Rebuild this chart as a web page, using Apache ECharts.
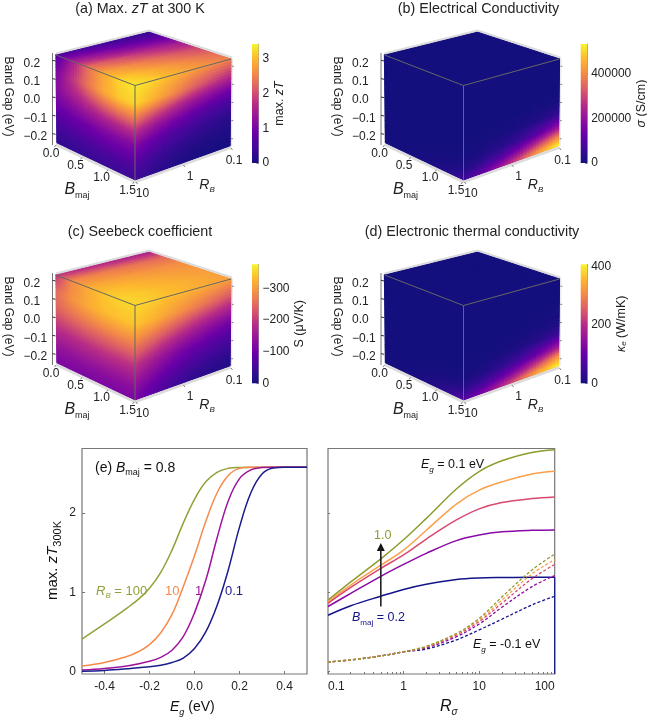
<!DOCTYPE html>
<html><head><meta charset="utf-8">
<style>html,body{margin:0;padding:0;background:#fff}#c{width:647px;height:718px}</style>
<script src="https://cdn.jsdelivr.net/npm/echarts@6/dist/echarts.min.js"></script>
</head><body><div id="c"></div>
<script>
// ---------- cube axes ----------
const bmajNodes=[0,0.3,0.6,0.9,1.2,1.5];
const rbNodes=[10,4,1.6,0.63,0.25,0.1];
const egNodes=[0.24,0.14,0.07,0,-0.07,-0.14,-0.19,-0.24];
const bmajTicks=[0,0.5,1,1.5];
const rbTicks=[10,1,0.1];
const egTicks=[0.2,0.1,0,-0.1,-0.2];
// ---------- (a) zT ----------
const zt_left=[[.55,1.4,2.3,2.85,3.2,3.35],[1.0,1.75,2.35,2.85,3.12,3.2],[1.15,1.55,1.9,2.2,2.4,2.45],[1.0,1.2,1.4,1.55,1.65,1.7],[.75,.85,.95,1.05,1.1,1.1],[.52,.6,.65,.7,.75,.75],[.38,.42,.46,.5,.52,.55],[.28,.32,.35,.38,.4,.42]];
const zt_right=[[3.35,3.2,3.0,2.8,2.65,2.5],[3.2,2.95,2.6,2.2,1.9,1.65],[2.45,2.1,1.75,1.4,1.15,.95],[1.7,1.35,1.05,.8,.62,.5],[1.1,.82,.6,.45,.32,.25],[.75,.52,.35,.23,.16,.12],[.55,.36,.22,.13,.08,.06],[.42,.26,.14,.07,.04,.03]];
const zt_top=[[.55,.5,.45,.4,.35,.3],[1.4,1.3,1.15,1.0,.9,.8],[2.3,2.15,1.95,1.75,1.6,1.45],[2.85,2.7,2.5,2.3,2.1,1.95],[3.2,3.05,2.85,2.65,2.45,2.3],[3.35,3.2,3.0,2.8,2.65,2.5]];
// ---------- (b) sigma ----------
const sigma_left=[[0,0,0,0,0,0],[0,0,0,0,0,0],[0,0,0,0,0,0],[0,0,0,0,0,0],[0,0,0,0,500,1000],[0,0,0,1000,2000,5000],[0,0,1000,3000,8000,18000],[0,1000,4000,12000,28000,60000]];
const sigma_right=[[0,0,0,0,0,0],[0,0,0,0,0,0],[0,0,0,0,0,1000],[0,0,0,1000,3000,8000],[1000,2000,5000,12000,25000,50000],[5000,12000,28000,60000,120000,210000],[20000,45000,90000,170000,280000,390000],[60000,120000,210000,320000,440000,533000]];
const sigma_top=[[0,0,0,0,0,0],[0,0,0,0,0,0],[0,0,0,0,0,0],[0,0,0,0,0,0],[0,0,0,0,0,0],[0,0,0,0,0,0]];
// ---------- (c) Seebeck magnitude ----------
const seebeck_left=[[190,280,315,340,350,355],[250,290,315,332,337,340],[245,265,280,290,295,295],[215,225,235,240,245,245],[180,185,190,195,195,195],[150,150,155,155,155,155],[130,130,130,130,130,130],[115,115,115,115,115,115]];
const seebeck_right=[[355,345,335,325,315,305],[340,325,300,275,250,225],[295,270,240,210,185,165],[245,215,180,150,125,105],[195,160,125,100,80,65],[155,120,90,65,50,40],[130,95,65,45,32,25],[115,75,50,30,22,18]];
const seebeck_top=[[190,185,180,175,170,165],[280,275,270,262,255,250],[315,310,305,295,290,285],[340,335,325,315,305,300],[350,345,335,325,315,305],[355,345,335,325,315,305]];
// ---------- (d) kappa_e ----------
const kappa_left=[[0,0,0,0,0,0],[0,0,0,0,0,0],[0,0,0,0,0,0],[0,0,0,0,0,0],[0,0,0,0,0,0],[0,0,0,1,3,6],[0,1,2,5,12,25],[1,2,6,15,35,70]];
const kappa_right=[[0,0,0,0,0,0],[0,0,0,0,0,0],[0,0,0,0,1,2],[0,0,1,2,4,10],[1,2,5,12,25,50],[6,14,30,60,110,180],[25,50,90,150,230,320],[70,120,190,270,350,407]];
const kappa_top=[[0,0,0,0,0,0],[0,0,0,0,0,0],[0,0,0,0,0,0],[0,0,0,0,0,0],[0,0,0,0,0,0],[0,0,0,0,0,0]];
// ---------- colour bar ranges and ticks ----------
const zt_max=3.43, sigma_max=533000, seebeck_max=376, kappa_max=407;
const zt_ticks=[0,1,2,3], sigma_ticks=[0,200000,400000], seebeck_ticks=[0,100,200,300], kappa_ticks=[0,200,400];
// ---------- (e) ----------
const e_rb100=[[-.5,.41],[-.4,.60],[-.3,.80],[-.25,.91],[-.2,1.05],[-.15,1.25],[-.1,1.53],[-.05,1.87],[0,2.17],[.05,2.39],[.1,2.51],[.15,2.56],[.2,2.572],[.3,2.575],[.5,2.575]];
const e_rb10=[[-.5,.07],[-.4,.115],[-.3,.19],[-.25,.25],[-.2,.34],[-.15,.49],[-.1,.72],[-.05,1.07],[0,1.46],[.05,1.89],[.1,2.25],[.15,2.47],[.2,2.56],[.25,2.574],[.3,2.575],[.5,2.575]];
const e_rb1=[[-.5,.02],[-.4,.04],[-.3,.07],[-.2,.13],[-.15,.18],[-.1,.27],[-.05,.44],[0,.74],[.05,1.15],[.1,1.68],[.15,2.15],[.2,2.43],[.25,2.54],[.3,2.57],[.35,2.575],[.5,2.575]];
const e_rb01=[[-.5,.005],[-.4,.015],[-.3,.035],[-.2,.06],[-.15,.08],[-.1,.115],[-.05,.17],[0,.29],[.05,.50],[.1,.83],[.15,1.28],[.2,1.82],[.25,2.25],[.3,2.49],[.35,2.565],[.4,2.575],[.5,2.575]];
const e_colors=['#93a03a','#f58a4f','#a0149c','#1b1b8c'];
const e_ticksX=[-0.4,-0.2,0,0.2,0.4], e_ticksY=[0,1,2];
// ---------- (f) ----------
const f_R=[.1,.2,.5,1,2,5,10,20,50,100];
const f_solid10=[.90,1.13,1.42,1.66,1.93,2.30,2.52,2.655,2.76,2.795];
const f_solid08=[.88,1.09,1.34,1.53,1.78,2.11,2.285,2.39,2.49,2.525];
const f_solid06=[.86,1.06,1.30,1.47,1.67,1.91,2.05,2.13,2.18,2.2];
const f_solid04=[.82,.985,1.2,1.35,1.49,1.65,1.72,1.76,1.78,1.785];
const f_solid02=[.71,.83,.95,1.035,1.10,1.16,1.18,1.186,1.19,1.19];
const f_dash10=[.12,.147,.197,.25,.32,.48,.67,.94,1.28,1.48];
const f_dash08=[.12,.147,.197,.25,.315,.475,.65,.90,1.23,1.41];
const f_dash06=[.12,.147,.197,.25,.31,.46,.63,.86,1.17,1.35];
const f_dash04=[.12,.147,.197,.25,.30,.44,.60,.81,1.07,1.21];
const f_dash02=[.12,.147,.197,.25,.285,.40,.525,.66,.84,.95];
const f_colors=['#8f9b2f','#f9a04a','#d9486e','#8a0aa5','#14148a'];

const FONT='"Liberation Sans",Arial,sans-serif';
const TXT='#222';
const CM=[[0,'#15107e'],[.12,'#3f0a98'],[.25,'#6a00a8'],[.38,'#94149a'],[.5,'#b82e87'],[.62,'#db5c68'],[.75,'#f38a48'],[.88,'#fdb92f'],[1,'#f7f52c']];
const hex=h=>[parseInt(h.slice(1,3),16),parseInt(h.slice(3,5),16),parseInt(h.slice(5,7),16)];
const CMR=CM.map(c=>[c[0],hex(c[1])]);
function cmap(t){t=Math.max(0,Math.min(1,t));
 for(let i=1;i<CMR.length;i++) if(t<=CMR[i][0]){const a=CMR[i-1],b=CMR[i],f=(t-a[0])/(b[0]-a[0]);
  return 'rgb('+[0,1,2].map(k=>Math.round(a[1][k]+(b[1][k]-a[1][k])*f)).join(',')+')';}
 return CM[CM.length-1][1];}
const gradStops=CM.map(c=>({offset:c[0],color:c[1]}));

const BOX={LT:[56,55],FT:[135,85.5],RT:[231,59],BT:[149,32],LB:[57,143],FB:[135,180],RB:[230,146]};
const OFF=[[0,0],[328.5,0],[0,220],[328.5,220]];
const sB=b=>b/1.5, sR=r=>(1-Math.log10(r))/2, sE=e=>(0.24-e)/0.48;
const bil=(a,b,c,d,s,t)=>[0,1].map(k=>(a[k]*(1-s)+b[k]*s)*(1-t)+(d[k]*(1-s)+c[k]*s)*t);
function facePt(f,s,t){
 if(f===0) return bil(BOX.LT,BOX.FT,BOX.FB,BOX.LB,s,t);
 if(f===1) return bil(BOX.FT,BOX.RT,BOX.RB,BOX.FB,s,t);
 return bil(BOX.LT,BOX.BT,BOX.RT,BOX.FT,s,t);
}
const mk=(v,w,it)=>({fontSize:v,fontFamily:FONT,fill:'#222',color:'#222',fontStyle:it?'italic':'normal',fontWeight:'normal',lineHeight:w});

const PANELS=[
 {left:zt_left,right:zt_right,top:zt_top,max:zt_max},
 {left:sigma_left,right:sigma_right,top:sigma_top,max:sigma_max},
 {left:seebeck_left,right:seebeck_right,top:seebeck_top,max:seebeck_max},
 {left:kappa_left,right:kappa_right,top:kappa_top,max:kappa_max}];

function faceRows(p){const out=[];
 [[p.left,0],[p.right,1],[p.top,2]].forEach(([g,f])=>{
  for(let j=0;j<g.length-1;j++)for(let i=0;i<g[0].length-1;i++)
   out.push([f,i,j,g[j][i],g[j][i+1],g[j+1][i],g[j+1][i+1]]);});
 return out;}
const NSUB=6;
function cellRender(pi){return function(params,api){
 const f=api.value(0),i=api.value(1),j=api.value(2),v00=api.value(3),v10=api.value(4),v01=api.value(5),v11=api.value(6);
 const max=PANELS[pi].max,o=OFF[pi];
 let s0,s1,t0,t1;
 if(f===0){s0=sB(bmajNodes[i]);s1=sB(bmajNodes[i+1]);t0=sE(egNodes[j]);t1=sE(egNodes[j+1]);}
 else if(f===1){s0=sR(rbNodes[i]);s1=sR(rbNodes[i+1]);t0=sE(egNodes[j]);t1=sE(egNodes[j+1]);}
 else {s0=sR(rbNodes[i]);s1=sR(rbNodes[i+1]);t0=sB(bmajNodes[j]);t1=sB(bmajNodes[j+1]);}
 const ch=[];
 const P=(s,t)=>{const q=facePt(f,s0+(s1-s0)*s,t0+(t1-t0)*t);return api.coord([q[0]+o[0],q[1]+o[1]]);};
 for(let a=0;a<NSUB;a++)for(let b=0;b<NSUB;b++){
  const sa=a/NSUB,sb=(a+1)/NSUB,ta=b/NSUB,tb=(b+1)/NSUB,sm=(a+.5)/NSUB,tm=(b+.5)/NSUB;
  const v=(v00*(1-sm)+v10*sm)*(1-tm)+(v01*(1-sm)+v11*sm)*tm;
  const c=cmap(v/max);
  ch.push({type:'polygon',silent:true,shape:{points:[P(sa,ta),P(sb,ta),P(sb,tb),P(sa,tb)]},style:{fill:c,stroke:c,lineWidth:1.3,lineJoin:'round'}});
 }
 return {type:'group',children:ch};
};}
function frameRender(params,api){
 const pi=api.value(0),o=OFF[pi];
 const C=q=>api.coord([q[0]+o[0],q[1]+o[1]]);
 const ch=[];
 const line=(a,b,col,w)=>{const A=C(a),B=C(b);ch.push({type:'line',shape:{x1:A[0],y1:A[1],x2:B[0],y2:B[1]},style:{stroke:col,lineWidth:w}});};
 const txt=(q,t,sty)=>{const A=C(q);ch.push({type:'text',x:A[0],y:A[1],rotation:sty.rot||0,style:Object.assign({text:t,fontFamily:FONT,fontSize:12,fill:TXT,align:'center',verticalAlign:'middle'},sty.s)});};
 const sh=(p,dx,dy)=>[p[0]+dx,p[1]+dy];
 const G='#dcdcdc';
 line(sh(BOX.LT,0,-1.5),sh(BOX.BT,0,-1.5),G,2);line(sh(BOX.BT,0,-1.5),sh(BOX.RT,1,-1.5),G,2);
 line(sh(BOX.LB,-1,1.5),sh(BOX.FB,0,2),G,2.5);line(sh(BOX.FB,0,2),sh(BOX.RB,1,1.5),G,2.5);
 line(sh(BOX.RT,1.5,0),sh(BOX.RB,1.5,0),'#e4e4e4',1);
 const E='#666';
 line(BOX.LT,BOX.FT,E,1);line(BOX.FT,BOX.RT,E,1);line(BOX.FT,BOX.FB,E,1);
 const ax=x=>[52.5,BOX.LT[1]+(BOX.LB[1]-BOX.LT[1])*sE(x)];
 line(sh(ax(0.24),0,-2),sh(ax(-0.24),0,2),'#777',1);
 egTicks.forEach(v=>{const p=sh(ax(v),0,-2);line(p,sh(p,3,.6),'#333',1);
  txt([23.5,p[1]+3],(v<0?'\u2212':'')+Math.abs(v).toFixed(1),{s:{align:'left'}});
  line(sh(facePt(1,1,sE(v)),1,0),sh(facePt(1,1,sE(v)),3,0),'#888',1);});
 bmajTicks.forEach(v=>{const q=facePt(0,sB(v),1);
  line(sh(q,-1,2),sh(q,-2.5,4),'#888',1);
  txt(sh(q,v===0?-6:-7.5,10.5),v.toFixed(1),{});});
 rbTicks.forEach(v=>{const q=facePt(1,sR(v),1);
  line(sh(q,1,2),sh(q,2.5,4),'#888',1);
  txt(sh(q,v===0.1?4:7.5,v===0.1?15:13.5),String(v),{});});
 txt([8.5,96.5],'Band Gap (eV)',{rot:-Math.PI/2,s:{fontSize:12}});
 txt([77,190],'{b|B}{s|maj}',{s:{rich:{b:mk(16,20,true),s:Object.assign(mk(9,11,false),{verticalAlign:'bottom'})}}});
 txt([207,185],'{b|R}{s|B}',{s:{rich:{b:mk(14,18,true),s:Object.assign(mk(8,10,true),{verticalAlign:'bottom'})}}});
 return {type:'group',children:ch};
}
function barRender(params,api){
 const cs=params.coordSys;
 return {type:'rect',shape:{x:cs.x,y:cs.y,width:cs.width,height:cs.height},
  style:{fill:new echarts.graphic.LinearGradient(0,1,0,0,gradStops)}};
}
const CB=[
 {max:zt_max,ticks:zt_ticks,left:252,top:44,h:119,gap:15,name:'max. {i|zT}',fmt:v=>String(v)},
 {max:sigma_max,ticks:sigma_ticks,left:580.7,top:44,h:119,gap:48,name:'{i|\u03c3} (S/cm)',fmt:v=>String(v)},
 {max:seebeck_max,ticks:seebeck_ticks,left:252,top:264.3,h:119,gap:33,name:'S (\u03bcV/K)',fmt:v=>v===0?'0':'\u2212'+v},
 {max:kappa_max,ticks:kappa_ticks,left:580.7,top:264.3,h:119,gap:27,name:'{i|\u03ba}{s|e} (W/mK)',fmt:v=>String(v)}];

const NOB={outerBoundsMode:'none',containLabel:false};
const grids=[Object.assign({left:0,top:0,width:647,height:718,show:false},NOB)];
const xAxes=[{gridIndex:0,type:'value',min:0,max:647,show:false}];
const yAxes=[{gridIndex:0,type:'value',min:0,max:718,inverse:true,show:false}];
const series=[];
PANELS.forEach((p,pi)=>{
 series.push({type:'custom',name:'cube'+pi,coordinateSystem:'cartesian2d',xAxisIndex:0,yAxisIndex:0,silent:true,animation:false,clip:false,z:2,renderItem:cellRender(pi),data:faceRows(p)});
});
series.push({type:'custom',name:'frames',xAxisIndex:0,yAxisIndex:0,silent:true,animation:false,clip:false,z:3,renderItem:frameRender,data:[[0,0],[1,0],[2,0],[3,0]]});
CB.forEach((c,i)=>{
 const k=grids.length;
 grids.push(Object.assign({left:c.left,top:c.top,width:6.5,height:c.h,show:false},NOB));
 xAxes.push({gridIndex:k,type:'value',min:0,max:1,show:false});
 yAxes.push({gridIndex:k,type:'value',min:0,max:c.max,position:'right',
  axisLine:{show:true,onZero:false,lineStyle:{color:'#888',width:.8}},
  axisTick:{show:true,inside:true,length:2,customValues:c.ticks,lineStyle:{color:'#555',width:.8}},
  splitLine:{show:false},
  axisLabel:{customValues:c.ticks,formatter:c.fmt,color:TXT,fontFamily:FONT,fontSize:12,margin:4,showMinLabel:true,showMaxLabel:true},
  name:c.name,nameLocation:'middle',nameGap:c.gap,nameRotate:90,
  nameTextStyle:{color:TXT,fontFamily:FONT,fontSize:12.5,rich:{i:{fontStyle:'italic',fontFamily:FONT,fontSize:12.5,color:TXT},s:{fontStyle:'italic',fontFamily:FONT,fontSize:8,color:TXT,verticalAlign:'bottom',lineHeight:10}}}});
 series.push({type:'custom',xAxisIndex:k,yAxisIndex:k,silent:true,animation:false,clip:false,renderItem:barRender,data:[[0,c.max]],z:2});
});
const FR='#777';
const ke=grids.length;
grids.push(Object.assign({left:82,top:448.5,width:225,height:225.5,show:true,borderColor:FR,borderWidth:1.2,backgroundColor:'transparent',z:1},NOB));
xAxes.push({gridIndex:ke,type:'value',min:-0.5,max:0.5,axisLine:{show:false,onZero:false},splitLine:{show:false},
 axisTick:{show:true,inside:true,length:3,customValues:e_ticksX,lineStyle:{color:FR}},
 axisLabel:{customValues:e_ticksX,formatter:v=>v.toFixed(1),color:TXT,fontFamily:FONT,fontSize:12,margin:7}});
yAxes.push({gridIndex:ke,type:'value',min:-0.03,max:2.81,axisLine:{show:false,onZero:false},splitLine:{show:false},
 axisTick:{show:true,inside:true,length:3,customValues:e_ticksY,lineStyle:{color:FR}},
 axisLabel:{customValues:e_ticksY,formatter:v=>String(v),color:TXT,fontFamily:FONT,fontSize:12,margin:6}});
[e_rb100,e_rb10,e_rb1,e_rb01].forEach((d,i)=>series.push({type:'line',xAxisIndex:ke,yAxisIndex:ke,data:d,showSymbol:false,smooth:.4,animation:false,silent:true,z:4+i,lineStyle:{color:e_colors[i],width:1.5}}));
const kf=grids.length;
grids.push(Object.assign({left:328,top:448.5,width:226.7,height:225.5,show:true,borderColor:FR,borderWidth:1.2,backgroundColor:'transparent',z:1},NOB));
xAxes.push({gridIndex:kf,type:'log',logBase:10,min:0.1,max:100,axisLine:{show:false,onZero:false},splitLine:{show:false},
 axisTick:{show:true,inside:true,length:3,lineStyle:{color:FR}},
 minorTick:{show:true,splitNumber:9,length:2,lineStyle:{color:FR}},
 axisLabel:{color:TXT,fontFamily:FONT,fontSize:12,margin:7,alignMinLabel:'left',alignMaxLabel:'right',showMinLabel:true,showMaxLabel:true,formatter:v=>String(v)}});
yAxes.push({gridIndex:kf,type:'value',min:-0.03,max:2.81,axisLine:{show:false,onZero:false},splitLine:{show:false},
 axisTick:{show:true,inside:true,length:2,customValues:e_ticksY,lineStyle:{color:FR}},axisLabel:{show:false}});
[f_solid10,f_solid08,f_solid06,f_solid04,f_solid02].forEach((d,i)=>series.push({type:'line',xAxisIndex:kf,yAxisIndex:kf,data:f_R.map((r,n)=>[r,d[n]]),showSymbol:false,smooth:.35,animation:false,silent:true,z:4,lineStyle:{color:f_colors[i],width:1.5}}));
[f_dash02,f_dash04,f_dash06,f_dash08,f_dash10].forEach((d,i)=>series.push({type:'line',xAxisIndex:kf,yAxisIndex:kf,data:f_R.map((r,n)=>[r,d[n]]),showSymbol:false,smooth:.35,animation:false,silent:true,z:4,lineStyle:{color:f_colors[4-i],width:1.3,type:[3,2]}}));
const f_edge=[[100,1.19],[100,-0.03]];
series.push({type:'line',xAxisIndex:kf,yAxisIndex:kf,data:f_edge,showSymbol:false,animation:false,silent:true,z:4,clip:false,lineStyle:{color:f_colors[4],width:1.2}});
const arrow_R=0.5, arrow_from=0.82, arrow_to=1.57;
series.push({type:'line',xAxisIndex:kf,yAxisIndex:kf,data:[[arrow_R,arrow_from],[arrow_R,arrow_to]],showSymbol:false,animation:false,silent:true,z:6,lineStyle:{color:'#222',width:1.6},
 markPoint:{silent:true,animation:false,symbol:'triangle',symbolSize:[8,8],itemStyle:{color:'#111'},label:{show:false},data:[{coord:[arrow_R,arrow_to]}]}});

const tR=(t,left,top)=>({text:t,left:left,top:top,padding:0,textAlign:'center',textStyle:{fontFamily:FONT,fontSize:14.3,fontWeight:'normal',color:TXT,rich:{i:{fontFamily:FONT,fontSize:14.3,fontStyle:'italic',color:TXT}}}});
const gT=(x,y,t,col,size,extra)=>Object.assign({type:'text',x:x,y:y,z:20,silent:true,style:{text:t,fill:col,fontFamily:FONT,fontSize:size,verticalAlign:'middle',align:'left'}},extra||{});
const rich=(col,size,sub)=>({i:{fontFamily:FONT,fontSize:size,fontStyle:'italic',color:col,fill:col,lineHeight:size+5},n:{fontFamily:FONT,fontSize:size,color:col,fill:col,lineHeight:size+5},s:{fontFamily:FONT,fontSize:sub,color:col,fill:col,lineHeight:sub+1,verticalAlign:'bottom'},si:{fontFamily:FONT,fontSize:sub,fontStyle:'italic',color:col,fill:col,lineHeight:sub+1,verticalAlign:'bottom'}});
const gR=(x,y,t,col,size,sub,extra)=>{const g=gT(x,y,t,col,size,extra);g.style.rich=rich(col,size,sub);return g;};
const option={
 animation:false,backgroundColor:'#fff',
 textStyle:{fontFamily:FONT},
 title:[tR('(a) Max. {i|zT} at 300 K',140,2),tR('(b) Electrical Conductivity',478.5,2),tR('(c) Seebeck coefficient',140,225),tR('(d) Electronic thermal conductivity',472,225)],
 grid:grids,xAxis:xAxes,yAxis:yAxes,series:series,
 graphic:{elements:[
  gR(95,468,'{n|(e) }{i|B}{s|maj}{n| = 0.8}','#111',14,9),
  gR(96,591,'{i|R}{si|B}{n| = 100}',e_colors[0],13,8),
  gT(165,591,'10',e_colors[1],13),
  gT(195,591,'1',e_colors[2],13),
  gT(225,591,'0.1',e_colors[3],13),
  gR(421,465,'{i|E}{si|g}{n| = 0.1 eV}','#111',12.5,8),
  gT(374,536,'1.0',f_colors[0],12.5),
  gR(352,618,'{i|B}{s|maj}{n| = 0.2}',f_colors[4],12.5,8),
  gR(473,645,'{i|E}{si|g}{n| = -0.1 eV}','#111',12.5,8),
  gR(170,707,'{i|E}{si|g}{n| (eV)}','#111',14,9),
  gR(440,707,'{i|R}{si|\u03c3}','#111',16,10),
  gR(53,600,'{n|max. }{i|zT}{s|300K}','#111',15,11,{rotation:Math.PI/2}),
 ]}
};
const chart=echarts.init(document.getElementById('c'),null,{renderer:'canvas'});
chart.setOption(option);
</script></body></html>
